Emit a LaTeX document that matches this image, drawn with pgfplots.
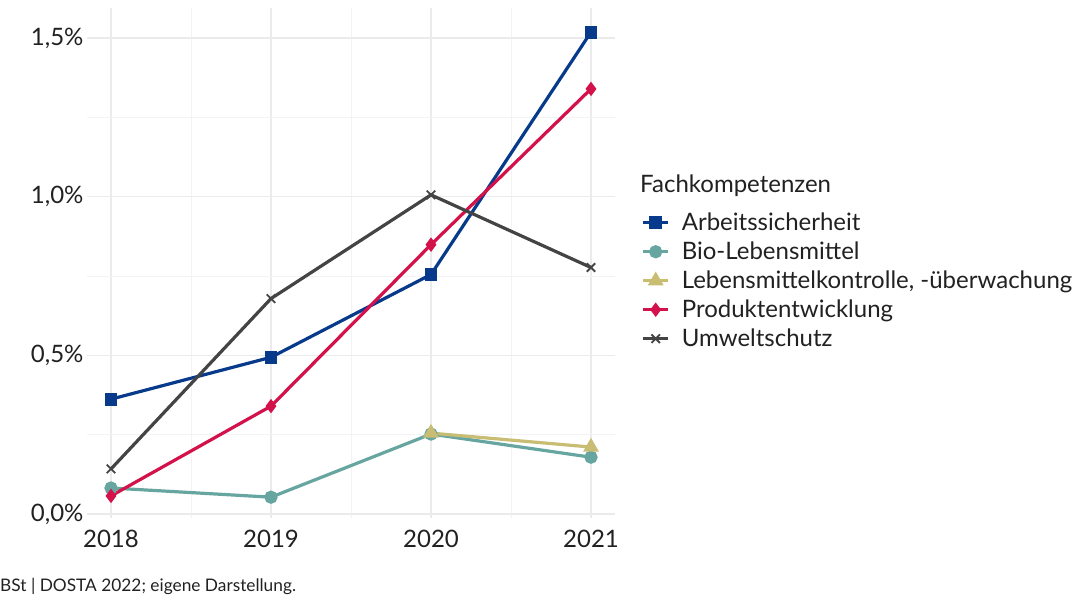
\documentclass[border=0pt]{standalone}
\usepackage{fontspec}
\setmainfont{Lato}
\usepackage{pgfplots}
\pgfplotsset{compat=1.18}
\definecolor{cArb}{HTML}{083A8C}
\definecolor{cBio}{HTML}{67A6A0}
\definecolor{cLMK}{HTML}{C8BD72}
\definecolor{cPro}{HTML}{D3114A}
\definecolor{cUmw}{HTML}{444444}
\definecolor{gridmaj}{HTML}{EBEBEB}
\definecolor{gridmin}{HTML}{F3F3F3}
\begin{document}
\begin{tikzpicture}[x=1pt,y=1pt]
\path[use as bounding box] (0,0) rectangle (1078,595);
\begin{axis}[
  at={(87pt,77pt)}, anchor=south west,
  scale only axis, width=528pt, height=510pt,
  xmin=2017.85, xmax=2021.15, ymin=-0.0126, ymax=1.595,
  axis line style={draw=none}, tick style={draw=none},
  xtick={2018,2019,2020,2021}, xticklabels={2018,2019,2020,2021},
  minor xtick={2018.5,2019.5,2020.5},
  ytick={0,0.5,1,1.5}, yticklabels={{0,0\%},{0,5\%},{1,0\%},{1,5\%}},
  minor ytick={0.25,0.75,1.25},
  grid=both,
  major grid style={draw=gridmaj, line width=1.3pt},
  minor grid style={draw=gridmin, line width=0.8pt},
  tick label style={font=\fontsize{24}{28}\selectfont, text=black!87},
  xticklabel style={yshift=-9pt},
  yticklabel style={xshift=0pt},
  every axis plot/.append style={line width=3.2pt},
  legend style={at={(1.05,0.6)}, anchor=north west, draw=none, fill=none,
    font=\fontsize{24}{28}\selectfont, row sep=7.8pt, column sep=11pt, inner sep=0pt,
    nodes={inner sep=1pt, text=black!87}},
  legend cell align=left,
  legend image code/.code={\draw[mark repeat=2,mark phase=2] plot coordinates {(0pt,0pt)(12.5pt,0pt)(25pt,0pt)};},
]
\addplot[cArb, mark=square*, mark size=4.8pt, mark options={solid}] coordinates {(2018,0.362) (2019,0.494) (2020,0.755) (2021,1.519)};
\addlegendentry{Arbeitssicherheit}
\addplot[cBio, mark=*, mark size=5pt] coordinates {(2018,0.082) (2019,0.053) (2020,0.252) (2021,0.179)};
\addlegendentry{Bio-Lebensmittel}
\addplot[cLMK, mark=triangle*, mark size=6pt] coordinates {(2020,0.255) (2021,0.211)};
\addlegendentry{Lebensmittelkontrolle, -überwachung}
\addplot[cPro, mark=diamond*, mark size=4.6pt] coordinates {(2018,0.057) (2019,0.340) (2020,0.849) (2021,1.340)};
\addlegendentry{Produktentwicklung}
\addplot[cUmw, mark=x, mark size=6pt, mark options={line width=1.8pt}] coordinates {(2018,0.142) (2019,0.679) (2020,1.006) (2021,0.777)};
\addlegendentry{Umweltschutz}
\end{axis}
\node[anchor=west, inner sep=0pt, font=\fontsize{24}{28}\selectfont, text=black!87] at (640,409) {Fachkompetenzen};
\node[anchor=west, inner sep=0pt, font=\fontsize{17.3}{20}\selectfont, text=black!87] at (0,9) {BSt | DOSTA 2022; eigene Darstellung.};
\end{tikzpicture}
\end{document}
